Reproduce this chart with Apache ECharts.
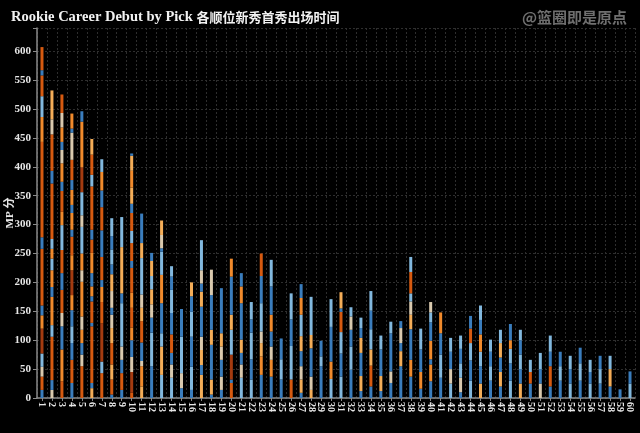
<!DOCTYPE html>
<html>
<head>
<meta charset="utf-8">
<script src="https://cdn.jsdelivr.net/npm/echarts@6/dist/echarts.min.js"></script>
<style>
  html, body { margin: 0; padding: 0; background: #000; }
  #chart { width: 640px; height: 433px; }
</style>
</head>
<body>
<div id="chart"></div>
<script>
// 顺位 1-60
const picks = Array.from({ length: 60 }, (_, i) => String(i + 1));

// 分组颜色代号
const groupColors = {
  DO: "#d65a10",
  BR: "#a43b10",
  O: "#f08a2c",
  LO: "#f4ad58",
  BG: "#d9c9ae",
  LB: "#82b8de",
  B: "#3a7dbd",
};

// 每个顺位从下往上的分段 [分组, 分钟]
const pickSegments = [
  [["B",14],["DO",23],["BG",17],["LB",23],["BR",43],["O",23],["B",17],["DO",98],["B",20],["DO",165],["O",43],["LB",36],["DO",36],["B",9],["DO",40]],
  [["BG",14],["B",17],["DO",75],["LB",20],["O",49],["B",17],["O",29],["LB",20],["O",17],["LB",17],["DO",96],["B",22],["DO",63],["BG",26],["LO",50]],
  [["DO",29],["O",55],["B",40],["BG",23],["DO",40],["B",29],["DO",40],["LB",43],["O",23],["DO",36],["B",16],["O",32],["BG",23],["B",14],["O",25],["BG",25],["DO",32]],
  [["B",26],["DO",40],["B",29],["LB",29],["B",28],["O",26],["BR",43],["O",26],["DO",32],["B",12],["O",29],["B",14],["O",26],["B",17],["DO",35],["BG",47],["B",7],["O",26]],
  [["DO",55],["BG",20],["B",20],["O",23],["BG",23],["O",60],["BG",20],["O",29],["LB",46],["BG",20],["LB",40],["BR",43],["O",79],["B",18]],
  [["LO",17],["B",9],["DO",98],["B",6],["DO",37],["B",9],["O",17],["B",23],["O",35],["DO",23],["B",17],["DO",75],["LB",20],["DO",35],["LO",27]],
  [["DO",43],["LB",20],["BR",66],["DO",37],["O",26],["B",12],["DO",40],["B",46],["DO",40],["B",29],["O",32],["LB",22]],
  [["B",6],["DO",26],["LO",26],["DO",37],["LO",26],["BG",23],["B",12],["BG",29],["LO",29],["B",17],["LB",26],["B",23],["LB",31]],
  [["B",14],["DO",29],["B",23],["BG",23],["LB",75],["B",17],["LO",80],["LB",52]],
  [["DO",9],["BR",36],["BG",26],["B",29],["O",22],["DO",34],["O",26],["DO",43],["B",12],["DO",31],["LB",21],["DO",31],["B",16],["LO",28],["O",29],["LO",26],["B",4]],
  [["LO",20],["O",35],["BG",9],["B",32],["DO",37],["LO",23],["BG",23],["LB",63],["LO",26],["B",51]],
  [["B",55],["LB",58],["B",26],["BG",23],["LO",26],["LB",23],["LO",26],["B",14]],
  [["LB",40],["LO",49],["LB",23],["B",52],["O",49],["LB",40],["B",6],["BG",23],["LO",25]],
  [["LB",35],["BG",23],["B",20],["DO",32],["B",37],["LB",40],["B",23],["LB",18]],
  [["B",17],["BG",26],["LB",63],["B",48]],
  [["B",14],["LB",40],["B",52],["LB",43],["B",27],["LO",24]],
  [["LO",40],["B",17],["LO",26],["BG",23],["B",52],["LO",26],["B",14],["BG",23],["LB",52]],
  [["B",6],["LO",26],["B",60],["LO",26],["B",60],["BG",44]],
  [["B",14],["BG",23],["B",29],["BG",23],["LO",23],["B",78]],
  [["DO",26],["B",6],["BR",43],["LB",43],["LO",26],["B",66],["O",31]],
  [["LB",35],["BG",23],["B",20],["LO",23],["B",63],["O",29],["B",23]],
  [["LB",32],["B",35],["LB",46],["B",23],["LB",30]],
  [["B",40],["O",32],["LO",23],["BG",20],["LB",49],["B",47],["DO",39]],
  [["B",37],["O",29],["BG",23],["B",26],["O",29],["B",49],["LB",46]],
  [["B",32],["LB",35],["B",36]],
  [["DO",32],["LB",58],["B",46],["LB",45]],
  [["B",9],["LO",23],["BG",23],["B",26],["LO",26],["LB",37],["O",29],["B",24]],
  [["LO",14],["BG",23],["B",49],["LO",23],["LB",66]],
  [["B",55],["LB",17],["B",27]],
  [["LB",33],["O",30],["B",60],["LB",48]],
  [["LB",37],["B",40],["LB",37],["DO",35],["B",6],["LO",28]],
  [["B",49],["LB",40],["B",29],["BG",23],["LB",16]],
  [["B",12],["LO",26],["B",40],["LO",26],["B",17],["LB",18]],
  [["B",20],["DO",36],["LO",28],["LB",35],["B",32],["LB",34]],
  [["B",12],["LO",26],["B",46],["LB",24]],
  [["B",26],["BG",20],["B",66],["LB",20]],
  [["B",55],["LO",26],["B",14],["BG",26],["B",12]],
  [["B",37],["O",29],["B",53],["LO",25],["BG",23],["LB",14],["DO",37],["LB",26]],
  [["B",16],["O",29],["B",39],["LB",36]],
  [["B",29],["O",29],["B",9],["O",32],["B",32],["LB",17],["BG",18]],
  [["B",35],["LB",40],["B",37],["O",36]],
  [["LB",25],["BG",25],["B",30],["LB",24]],
  [["B",10],["BG",25],["LB",25],["B",25],["LB",23]],
  [["LB",30],["B",35],["LB",30],["DO",25],["B",22]],
  [["LO",25],["B",30],["LB",25],["O",30],["B",25],["LB",25]],
  [["B",30],["LB",25],["B",25],["LB",21]],
  [["B",20],["LO",25],["B",25],["LO",25],["LB",23]],
  [["LB",30],["B",30],["LB",25],["O",15],["B",28]],
  [["LO",25],["B",25],["LB",25],["B",25],["LB",18]],
  [["B",25],["DO",20],["LB",21]],
  [["BG",25],["B",25],["LB",28]],
  [["B",20],["DO",35],["B",25],["LB",28]],
  [["B",30],["LB",25],["B",25]],
  [["LB",25],["B",25],["LB",23]],
  [["B",30],["LB",30],["B",27]],
  [["LB",25],["B",20],["LB",21]],
  [["B",25],["LB",25],["B",23]],
  [["B",20],["LO",30],["LB",23]],
  [["B",15]],
  [["LB",25],["B",21]],
];

const yTicks = [0, 50, 100, 150, 200, 250, 300, 350, 400, 450, 500, 550, 600];

const chart = echarts.init(document.getElementById("chart"));
const serif = "'Liberation Serif', 'DejaVu Serif', 'Noto Sans CJK SC', serif";

// 每一层一个系列，按分段顺序堆叠
const layers = Math.max(...pickSegments.map((s) => s.length));
const series = [];
for (let i = 0; i < layers; i++) {
  series.push({
    type: "bar",
    stack: "mp",
    barWidth: 3,
    silent: true,
    data: pickSegments.map((segs) =>
      segs[i]
        ? { value: segs[i][1], itemStyle: { color: groupColors[segs[i][0]] } }
        : "-"
    ),
  });
}

const option = {
  backgroundColor: "#000",
  animation: false,
  title: [
    {
      text: "Rookie Career Debut by Pick {cn|各顺位新秀首秀出场时间}",
      left: 6,
      top: 5,
      textStyle: {
        color: "#f2f2f2",
        fontFamily: serif,
        fontWeight: "bold",
        fontSize: 14.5,
        rich: {
          cn: {
            color: "#f2f2f2",
            fontFamily: "'Noto Sans CJK SC', serif",
            fontWeight: "bold",
            fontSize: 13,
          },
        },
      },
    },
    {
      text: "@篮圈即是原点",
      right: 8,
      top: 5,
      textStyle: {
        color: "#6f6f6f",
        fontFamily: "'Noto Sans CJK SC', sans-serif",
        fontWeight: "bold",
        fontSize: 15,
      },
    },
  ],
  grid: { left: 37, right: 5, top: 28, bottom: 35, containLabel: false, outerBoundsMode: "none" },
  xAxis: {
    type: "category",
    data: picks,
    axisLine: { lineStyle: { color: "#8a8a8a", width: 1.5 } },
    axisTick: { show: true, alignWithLabel: true, length: 3, lineStyle: { color: "#8a8a8a" } },
    axisLabel: {
      interval: 0,
      rotate: -90,
      margin: 4,
      color: "#e6e6e6",
      fontFamily: serif,
      fontWeight: "bold",
      fontSize: 10,
    },
    splitLine: { show: true, interval: 0, lineStyle: { color: "#2e2e2e", type: [2, 2] } },
  },
  yAxis: {
    type: "value",
    min: 0,
    max: 640,
    interval: 50,
    name: "MP 分",
    nameLocation: "middle",
    nameGap: 21,
    nameRotate: 90,
    nameMoveOverlap: false,
    nameTextStyle: { color: "#e6e6e6", fontFamily: serif, fontWeight: "bold", fontSize: 11 },
    axisLine: { show: true, lineStyle: { color: "#8a8a8a", width: 1.5 } },
    axisTick: { show: true, length: 4, lineStyle: { color: "#8a8a8a" } },
    axisLabel: {
      color: "#e6e6e6",
      fontFamily: serif,
      fontWeight: "bold",
      fontSize: 11,
      margin: 6,
      formatter: (v) => (yTicks.includes(v) ? String(v) : ""),
    },
    splitLine: { show: true, lineStyle: { color: "#2e2e2e", type: [2, 2] } },
  },
  series: series,
};

chart.setOption(option);
</script>
</body>
</html>
